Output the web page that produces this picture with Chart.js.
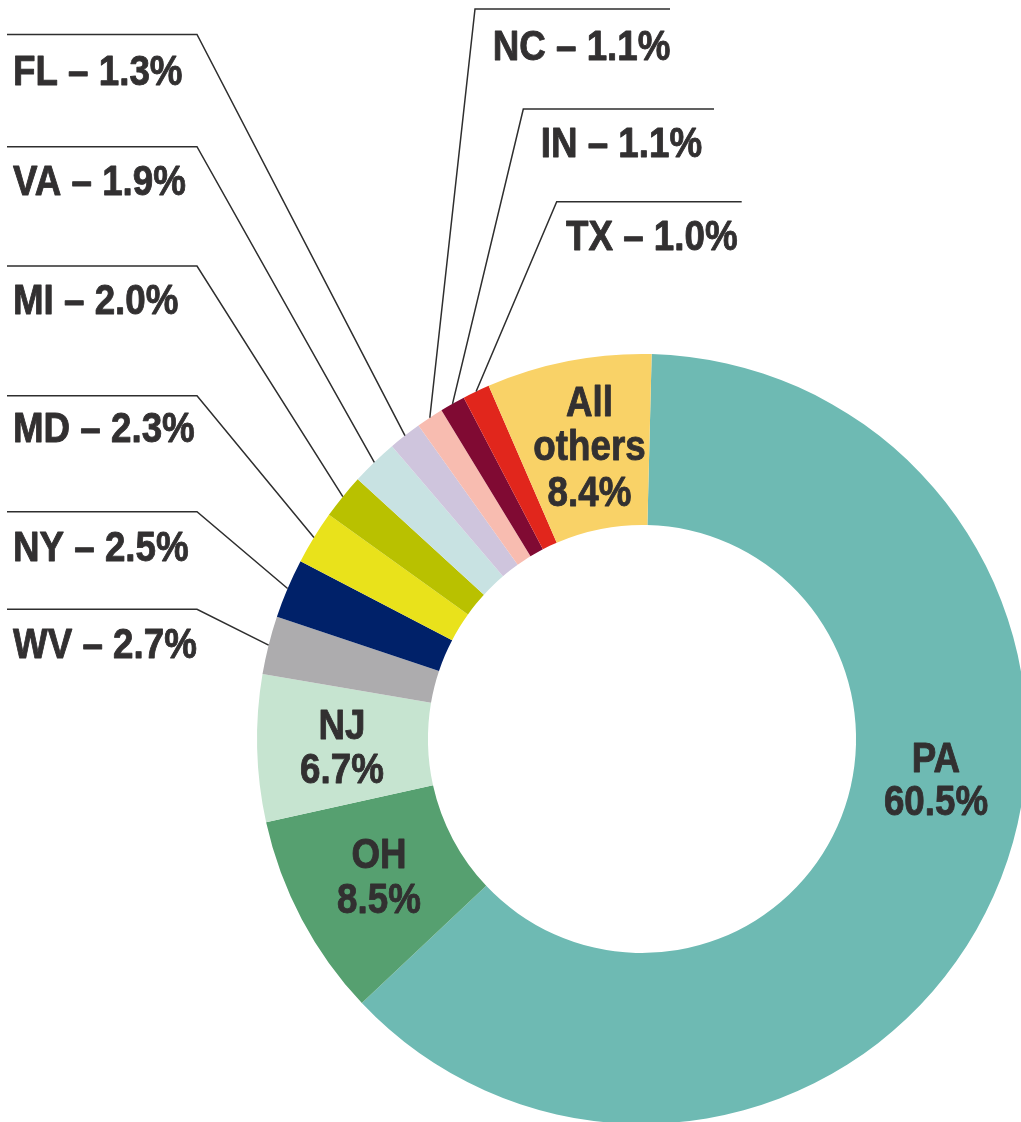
<!DOCTYPE html>
<html><head><meta charset="utf-8">
<script src="https://cdn.jsdelivr.net/npm/chart.js@4.4.1/dist/chart.umd.min.js"></script>
<style>
html,body{margin:0;padding:0;overflow:hidden;background:#fff;width:1021px;height:1122px;}
#wrap{position:absolute;left:0;top:0;width:1284px;height:1478px;}
canvas{display:block;}
</style></head><body>
<div id="wrap"><canvas id="c" width="1284" height="1478"></canvas></div>
<script>
// ---- data ----
const states = ['PA','OH','NJ','WV','NY','MD','MI','VA','FL','NC','IN','TX','All others'];
const printedShares = ['60.5%','8.5%','6.7%','2.7%','2.5%','2.3%','2.0%','1.9%','1.3%','1.1%','1.1%','1.0%','8.4%'];
// slice sizes as drawn in the picture (percent of the ring)
const sliceSizes = [62.57, 8.56, 6.17, 2.44, 2.50, 2.25, 1.89, 1.97, 1.39, 1.14, 1.06, 1.14, 6.92];
const sliceColors = ['#6ebab3','#56a070','#c6e4d0','#adacae','#002169','#e9e21b','#b9c100','#c8e2e2','#cfc5dd','#f8bcb0','#800a33','#e1261c','#f9d267'];

// ---- label layout ----
const FONT = 'bold 42px "Liberation Sans", Arial, sans-serif';
const TEXT_COLOR = '#323031';
const SX = 0.875;
const insideLabels = [
  {i:0, x:936, ys:[771.7, 815]},
  {i:1, x:379, ys:[868.3, 913.3]},
  {i:2, x:342, ys:[739.3, 783.3]},
  {i:12, x:589.5, ys:[416, 460, 506], lines:['All','others']}
];
const leftLabels = [
  {i:8, lineY:34.5, base:85},
  {i:7, lineY:146.7, base:195},
  {i:6, lineY:266, base:314},
  {i:5, lineY:395.7, base:441.7},
  {i:4, lineY:511.7, base:560.7},
  {i:3, lineY:609.3, base:658.3}
];
const LEFT_X0 = 7, LEFT_ELBOW = 197, LEFT_TEXT = 13;
const rightLabels = [
  {i:9, lineY:9, elbow:475, end:670, tx:492.7, base:60},
  {i:10, lineY:109, elbow:523.3, end:714, tx:540.7, base:156.7},
  {i:11, lineY:201.7, elbow:556.7, end:741.7, tx:566, base:250}
];

function drawText(ctx, str, x, y, align){
  ctx.save();
  ctx.translate(x, y);
  ctx.scale(SX, 1);
  ctx.textAlign = align;
  ctx.textBaseline = 'alphabetic';
  ctx.lineWidth = 0.9;
  ctx.strokeStyle = TEXT_COLOR;
  ctx.lineJoin = 'round';
  ctx.fillText(str, 0, 0);
  ctx.strokeText(str, 0, 0);
  ctx.restore();
}

const labelPlugin = {
  id: 'labelPlugin',
  afterDraw(chart){
    const ctx = chart.ctx;
    const arcs = chart.getDatasetMeta(0).data;
    const edgePoint = (i) => {
      const a = arcs[i];
      const p = a.getProps(['x','y','startAngle','endAngle','outerRadius'], true);
      const m = (p.startAngle + p.endAngle) / 2;
      return {x: p.x + Math.cos(m) * p.outerRadius, y: p.y + Math.sin(m) * p.outerRadius};
    };
    ctx.save();
    ctx.font = FONT;
    ctx.fillStyle = TEXT_COLOR;
    const leader = (pts) => {
      ctx.save();
      ctx.strokeStyle = '#2e2e2e';
      ctx.lineWidth = 1.5;
      ctx.beginPath();
      ctx.moveTo(pts[0].x, pts[0].y);
      for (let k = 1; k < pts.length; k++) ctx.lineTo(pts[k].x, pts[k].y);
      ctx.stroke();
      ctx.restore();
    };
    leftLabels.forEach(l => {
      const e = edgePoint(l.i);
      leader([{x:LEFT_X0, y:l.lineY}, {x:LEFT_ELBOW, y:l.lineY}, e]);
      drawText(ctx, states[l.i] + ' \u2013 ' + printedShares[l.i], LEFT_TEXT, l.base, 'left');
    });
    rightLabels.forEach(l => {
      const e = edgePoint(l.i);
      leader([{x:l.end, y:l.lineY}, {x:l.elbow, y:l.lineY}, e]);
      drawText(ctx, states[l.i] + ' \u2013 ' + printedShares[l.i], l.tx, l.base, 'left');
    });
    insideLabels.forEach(l => {
      const lines = (l.lines ? l.lines : [states[l.i]]).concat([printedShares[l.i]]);
      lines.forEach((s, k) => drawText(ctx, s, l.x, l.ys[k], 'center'));
    });
    ctx.restore();
  }
};

new Chart(document.getElementById('c'), {
  type: 'doughnut',
  data: {
    labels: states,
    datasets: [{
      data: sliceSizes,
      backgroundColor: sliceColors,
      borderWidth: 0,
      hoverOffset: 0,
      offset: 0,
      spacing: 0
    }]
  },
  options: {
    responsive: false,
    animation: false,
    devicePixelRatio: 1,
    rotation: 1.44,
    cutout: '55.6%',
    layout: {padding: {left: 257, right: 257, top: 354, bottom: 354}},
    plugins: {legend: {display: false}, tooltip: {enabled: false}},
    events: []
  },
  plugins: [labelPlugin]
});
</script>
</body></html>
